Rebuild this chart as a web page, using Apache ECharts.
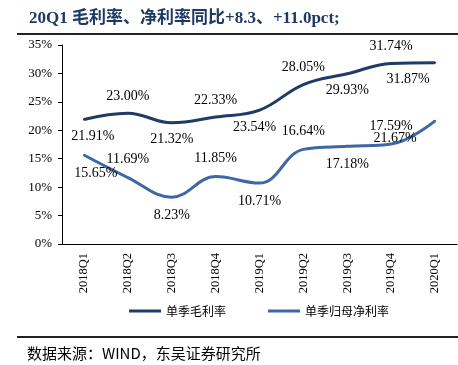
<!DOCTYPE html>
<html>
<head>
<meta charset="utf-8">
<script src="https://cdn.jsdelivr.net/npm/echarts@6/dist/echarts.min.js"></script>
<style>
  html, body { margin: 0; padding: 0; background: #fff; }
  #chart { width: 458px; height: 365px; }
</style>
</head>
<body>
<div id="chart"></div>
<script>
// 季度
const quarters = ['2018Q1', '2018Q2', '2018Q3', '2018Q4', '2019Q1', '2019Q2', '2019Q3', '2019Q4', '2020Q1'];
// 单季毛利率 (%)
const grossMargin = [21.91, 23.00, 21.32, 22.33, 23.54, 28.05, 29.93, 31.74, 31.87];
// 单季归母净利率 (%)
const netMargin = [15.65, 11.69, 8.23, 11.85, 10.71, 16.64, 17.18, 17.59, 21.67];
const yTicks = [0, 5, 10, 15, 20, 25, 30, 35];

const serif = '"Liberation Serif", "Times New Roman", "Noto Sans CJK SC", serif';
const cjk = '"Noto Sans CJK SC", sans-serif';

// label above/below alternately, plus a few nudges like the original
function withLabels(values, nudge) {
  return values.map((v, i) => ({
    value: v,
    label: {
      show: true,
      position: i % 2 === 0 ? 'bottom' : 'top',
      offset: [nudge[i] || 0, 0]
    }
  }))
}

let chart = echarts.init(document.getElementById('chart'));
let option = {
  animation: false,
  backgroundColor: '#fff',
  title: {
    text: '20Q1 毛利率、净利率同比+8.3、+11.0pct;',
    left: 24,
    top: 5,
    textStyle: {
      fontFamily: serif,
      fontWeight: 'bold',
      fontSize: 17,
      color: '#1F3864'
    }
  },
  graphic: [
    {type: 'line', shape: {x1: 17, y1: 34, x2: 458, y2: 34}, style: {stroke: '#222', lineWidth: 2}},
    {type: 'line', shape: {x1: 17, y1: 337, x2: 458, y2: 337}, style: {stroke: '#222', lineWidth: 2}},
    {
      type: 'text', left: 27, top: 346,
      style: {text: '数据来源：WIND，东吴证券研究所', font: '15px ' + cjk, fill: '#000'}
    }
  ],
  legend: {
    top: 300,
    left: 124,
    itemWidth: 32,
    itemHeight: 3,
    itemGap: 42,
    icon: 'rect',
    textStyle: {fontFamily: cjk, fontSize: 12, color: '#000'},
    data: ['单季毛利率', '单季归母净利率']
  },
  grid: {left: 62, right: 1, top: 45, bottom: 121, containLabel: false},
  xAxis: {
    type: 'category',
    data: quarters,
    axisLine: {lineStyle: {color: '#000', width: 1}},
    axisTick: {alignWithLabel: true, length: 4, lineStyle: {color: '#000'}},
    axisLabel: {
      rotate: 90,
      margin: 9,
      fontFamily: serif,
      fontSize: 12.5,
      color: '#000'
    }
  },
  yAxis: {
    type: 'value',
    min: yTicks[0],
    max: yTicks[yTicks.length - 1],
    interval: 5,
    axisLine: {show: true, lineStyle: {color: '#000', width: 1}},
    axisTick: {show: true, length: 4, lineStyle: {color: '#000'}},
    splitLine: {show: false},
    axisLabel: {
      formatter: '{value}%',
      margin: 10,
      fontFamily: serif,
      fontSize: 13,
      color: '#000'
    }
  },
  series: [
    {
      name: '单季毛利率',
      type: 'line',
      smooth: 0.4,
      symbol: 'circle',
      symbolSize: 2,
      showSymbol: true,
      lineStyle: {width: 3, color: '#1F3B66'},
      itemStyle: {color: '#1F3B66'},
      label: {
        show: true,
        distance: 9,
        fontFamily: serif,
        fontSize: 14,
        color: '#000',
        formatter: p => p.value.toFixed(2) + '%'
      },
      data: withLabels(grossMargin, {0: 9, 4: -5, 8: -27})
    },
    {
      name: '单季归母净利率',
      type: 'line',
      smooth: 0.4,
      symbol: 'circle',
      symbolSize: 2,
      showSymbol: true,
      lineStyle: {width: 3, color: '#3D68A4'},
      itemStyle: {color: '#3D68A4'},
      label: {
        show: true,
        distance: 10,
        fontFamily: serif,
        fontSize: 14,
        color: '#000',
        formatter: p => p.value.toFixed(2) + '%'
      },
      data: withLabels(netMargin, {0: 12, 8: -40})
    }
  ]
};
chart.setOption(option);
</script>
</body>
</html>
